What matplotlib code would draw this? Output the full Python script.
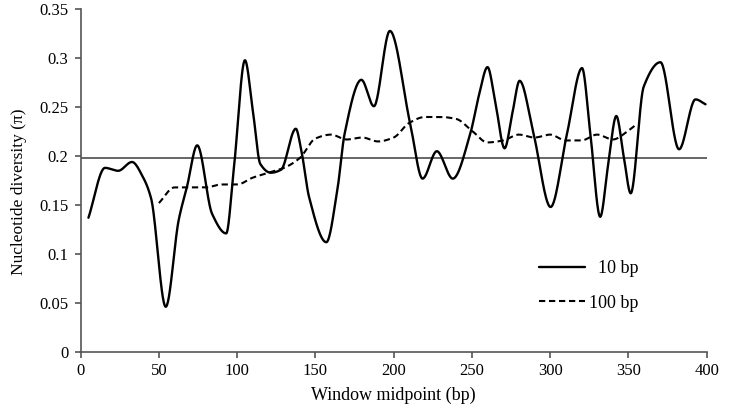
import numpy as np
import matplotlib
matplotlib.use("Agg")
import matplotlib.pyplot as plt

# ---- data ----
x_10bp = [5, 15.6, 24, 32.8, 40, 45, 54.4, 62.7, 68, 74.5, 84, 93, 98, 105, 110,
          114.8, 121.6, 128, 137.5, 141, 146, 157, 164, 168.7, 179.4, 187.4, 197.6,
          210.6, 218.5, 227.6, 237.8, 249, 254.5, 260, 265, 270.9, 276, 280.5,
          289.4, 300.3, 310.8, 320.4, 325.7, 332, 337, 342.3, 347, 351.5, 359.8,
          370.5, 382.4, 392.9, 399.3]
y_10bp = [0.137, 0.188, 0.185, 0.194, 0.178, 0.157, 0.046, 0.135, 0.169, 0.211,
          0.141, 0.121, 0.189, 0.298, 0.247, 0.192, 0.183, 0.186, 0.228, 0.206,
          0.158, 0.112, 0.165, 0.223, 0.278, 0.251, 0.328, 0.233, 0.177, 0.205,
          0.177, 0.223, 0.262, 0.291, 0.255, 0.208, 0.245, 0.277, 0.223, 0.148,
          0.223, 0.290, 0.223, 0.138, 0.190, 0.241, 0.200, 0.162, 0.271, 0.296,
          0.207, 0.258, 0.253]

x_100bp = [50, 60, 70, 80, 90, 100, 110, 120, 130, 140, 150, 160, 170, 180, 190,
           200, 210, 220, 230, 240, 250, 260, 270, 280, 290, 300, 310, 320, 330,
           340, 350, 354]
y_100bp = [0.152, 0.168, 0.168, 0.168, 0.171, 0.171, 0.178, 0.183, 0.188, 0.198,
           0.218, 0.222, 0.217, 0.219, 0.215, 0.219, 0.234, 0.240, 0.240, 0.238,
           0.226, 0.214, 0.216, 0.222, 0.219, 0.222, 0.216, 0.216, 0.222, 0.217,
           0.226, 0.231]

mean_pi = 0.1977
labels = ["10 bp", "100 bp"]
x_ticks = [0, 50, 100, 150, 200, 250, 300, 350, 400]
y_ticks = [0, 0.05, 0.1, 0.15, 0.2, 0.25, 0.3, 0.35]
y_tick_labels = ["0", "0.05", "0.1", "0.15", "0.2", "0.25", "0.3", "0.35"]


def pchip_smooth(x, y, n=30):
    """Shape-preserving cubic (PCHIP) rendering of a smoothed line."""
    x = np.asarray(x, float)
    y = np.asarray(y, float)
    h = np.diff(x)
    d = np.diff(y) / h
    m = np.zeros_like(y)
    for i in range(1, len(x) - 1):
        if d[i - 1] * d[i] > 0:
            w1 = 2 * h[i] + h[i - 1]
            w2 = h[i] + 2 * h[i - 1]
            m[i] = (w1 + w2) / (w1 / d[i - 1] + w2 / d[i])
    m[0] = d[0]
    m[-1] = d[-1]
    xs, ys = [], []
    for i in range(len(x) - 1):
        t = np.linspace(0, 1, n, endpoint=False)
        h00 = 2 * t**3 - 3 * t**2 + 1
        h10 = t**3 - 2 * t**2 + t
        h01 = -2 * t**3 + 3 * t**2
        h11 = t**3 - t**2
        xs.append(x[i] + t * h[i])
        ys.append(h00 * y[i] + h10 * h[i] * m[i] + h01 * y[i + 1] + h11 * h[i] * m[i + 1])
    xs.append([x[-1]])
    ys.append([y[-1]])
    return np.concatenate(xs), np.concatenate(ys)


plt.rcParams["font.family"] = ["Liberation Serif", "DejaVu Serif"]
plt.rcParams["font.size"] = 13

fig = plt.figure(figsize=(7.33, 4.09), dpi=100)
ax = fig.add_axes([0.110, 0.140, 0.854, 0.837])

ax.axhline(mean_pi, color="#5a5a5a", lw=1.3, zorder=1)

sx, sy = pchip_smooth(x_10bp, y_10bp)
ax.plot(sx, sy, color="black", lw=1.7, label="  " + labels[0], solid_capstyle="round")
dx, dy = pchip_smooth(x_100bp, y_100bp)
ax.plot(dx, dy, color="black", lw=1.5, dashes=(3, 1.8), label=labels[1])

ax.set_xlim(0, 400)
ax.set_ylim(0, 0.35)
ax.set_xticks(x_ticks)
ax.set_yticks(y_ticks)
ax.set_yticklabels(y_tick_labels)

for s in ["top", "right"]:
    ax.spines[s].set_visible(False)
for s in ["left", "bottom"]:
    ax.spines[s].set_color("#555555")
    ax.spines[s].set_linewidth(1.2)
ax.tick_params(direction="out", length=4, width=1.2, color="#555555", labelsize=12)
ax.tick_params(axis="y", pad=5)
ax.tick_params(axis="x", pad=4)

ax.set_xlabel("Window midpoint (bp)", fontsize=13, labelpad=6)
ax.set_ylabel("Nucleotide diversity (π)", fontsize=12.5)
ax.yaxis.set_label_coords(-0.086, 0.466)

ax.legend(loc="upper left", bbox_to_anchor=(0.707, 0.314), frameon=False,
          handlelength=2.5, handletextpad=0.25, labelspacing=0.95, fontsize=13)

fig.savefig("out.png", dpi=100)
